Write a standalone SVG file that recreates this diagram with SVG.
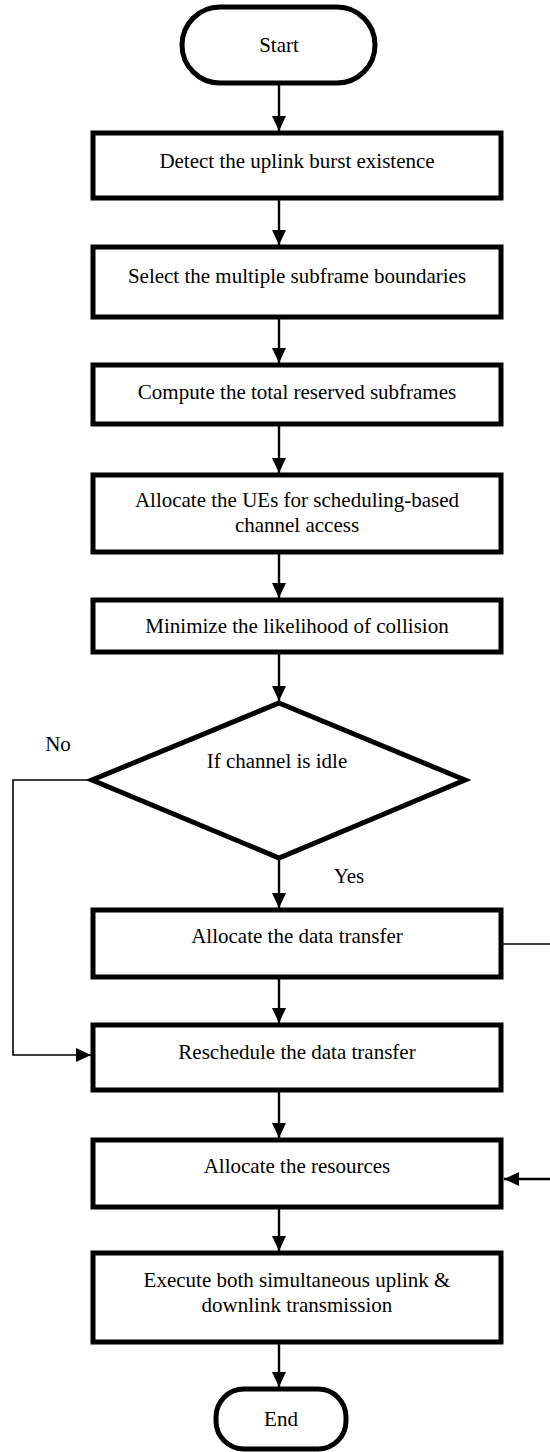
<svg xmlns="http://www.w3.org/2000/svg" width="550" height="1452" viewBox="0 0 550 1452">
<defs>
<marker id="ah" markerUnits="userSpaceOnUse" markerWidth="16" markerHeight="16" viewBox="0 0 16 16" refX="15" refY="8" orient="auto">
<path d="M0,1 L15,8 L0,15 Z" fill="#000"/>
</marker>
</defs>
<style>
.box{fill:#fff;stroke:#000;stroke-width:5}
.t{font-family:"Liberation Serif","Times New Roman","DejaVu Serif",serif;font-size:21px;fill:#000;text-anchor:middle}
.c{fill:none;stroke:#000;stroke-width:2.4}
.thin{fill:none;stroke:#000;stroke-width:1.6}
</style>
<rect width="550" height="1452" fill="#fff"/>
<g id="connectors">
<line class="c" x1="279" y1="83" x2="279" y2="131" marker-end="url(#ah)"/>
<line class="c" x1="279" y1="198" x2="279" y2="245" marker-end="url(#ah)"/>
<line class="c" x1="279" y1="317" x2="279" y2="363" marker-end="url(#ah)"/>
<line class="c" x1="279" y1="424" x2="279" y2="473" marker-end="url(#ah)"/>
<line class="c" x1="279" y1="552" x2="279" y2="598" marker-end="url(#ah)"/>
<line class="c" x1="279" y1="652" x2="279" y2="701" marker-end="url(#ah)"/>
<line class="c" x1="279" y1="858" x2="279" y2="908" marker-end="url(#ah)"/>
<line class="c" x1="279" y1="977" x2="279" y2="1023" marker-end="url(#ah)"/>
<line class="c" x1="279" y1="1090" x2="279" y2="1138" marker-end="url(#ah)"/>
<line class="c" x1="279" y1="1207" x2="279" y2="1251" marker-end="url(#ah)"/>
<line class="c" x1="279" y1="1342" x2="279" y2="1387" marker-end="url(#ah)"/>
<polyline class="thin" points="92,780 13,780 13,1055 91,1055" marker-end="url(#ah)"/>
<line class="thin" x1="502" y1="944" x2="550" y2="944"/>
<line class="c" x1="550" y1="1179" x2="504" y2="1179" marker-end="url(#ah)"/>
</g>
<g id="start">
<rect class="box" x="182" y="7" width="193" height="76" rx="38"/>
<text class="t" x="279" y="52">Start</text>
</g>
<g id="n1">
<rect class="box" x="93" y="133" width="408" height="65"/>
<text class="t" x="297" y="168">Detect the uplink burst existence</text>
</g>
<g id="n2">
<rect class="box" x="93" y="247" width="408" height="70"/>
<text class="t" x="297" y="283">Select the multiple subframe boundaries</text>
</g>
<g id="n3">
<rect class="box" x="93" y="365" width="408" height="59"/>
<text class="t" x="297" y="399">Compute the total reserved subframes</text>
</g>
<g id="n4">
<rect class="box" x="93" y="475" width="408" height="77"/>
<text class="t" x="297" y="507">Allocate the UEs for scheduling-based</text>
<text class="t" x="297" y="532">channel access</text>
</g>
<g id="n5">
<rect class="box" x="93" y="600" width="408" height="52"/>
<text class="t" x="297" y="633">Minimize the likelihood of collision</text>
</g>
<g id="decision">
<polygon class="box" points="279,703 465,780 279,858 92,780"/>
<text class="t" x="277" y="768">If channel is idle</text>
</g>
<text class="t" x="58" y="751">No</text>
<text class="t" x="349" y="883">Yes</text>
<g id="n6">
<rect class="box" x="93" y="910" width="408" height="67"/>
<text class="t" x="297" y="943">Allocate the data transfer</text>
</g>
<g id="n7">
<rect class="box" x="93" y="1025" width="408" height="65"/>
<text class="t" x="297" y="1059">Reschedule the data transfer</text>
</g>
<g id="n8">
<rect class="box" x="93" y="1140" width="408" height="67"/>
<text class="t" x="297" y="1173">Allocate the resources</text>
</g>
<g id="n9">
<rect class="box" x="93" y="1253" width="408" height="89"/>
<text class="t" x="297" y="1287">Execute both simultaneous uplink &amp;</text>
<text class="t" x="297" y="1312">downlink transmission</text>
</g>
<g id="end">
<rect class="box" x="216" y="1389" width="130" height="60" rx="28" ry="28"/>
<text class="t" x="281" y="1426">End</text>
</g>
</svg>
